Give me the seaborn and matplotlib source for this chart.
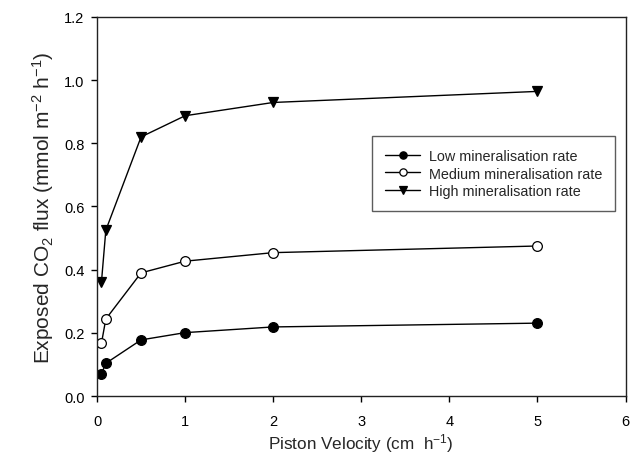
import matplotlib
matplotlib.use("Agg")
import matplotlib.pyplot as plt
import seaborn as sns
import pandas as pd

velocity = [0.05, 0.1, 0.5, 1, 2, 5]
low = [0.07, 0.104, 0.178, 0.201, 0.219, 0.231]
medium = [0.167, 0.244, 0.39, 0.427, 0.454, 0.475]
high = [0.36, 0.525, 0.82, 0.887, 0.929, 0.964]
series_names = ["Low mineralisation rate", "Medium mineralisation rate", "High mineralisation rate"]
x_ticks = [0, 1, 2, 3, 4, 5, 6]
y_ticks = [0.0, 0.2, 0.4, 0.6, 0.8, 1.0, 1.2]

sns.set_style("ticks")
plt.rcParams["font.family"] = ["Liberation Sans", "DejaVu Sans"]
plt.rcParams["mathtext.fontset"] = "custom"
plt.rcParams["mathtext.rm"] = "Liberation Sans"
plt.rcParams["mathtext.it"] = "Liberation Sans"

df = pd.DataFrame({
    "x": velocity * 3,
    "y": low + medium + high,
    "series": [series_names[0]] * 6 + [series_names[1]] * 6 + [series_names[2]] * 6,
})

fig = plt.figure(figsize=(6.3, 4.56), dpi=100)
ax = fig.add_axes([0.154, 0.129, 0.839, 0.832])

styles = {
    series_names[0]: dict(marker="o", markerfacecolor="black", markersize=7),
    series_names[1]: dict(marker="o", markerfacecolor="white", markersize=7),
    series_names[2]: dict(marker="v", markerfacecolor="black", markersize=7.5),
}
for name in series_names:
    sub = df[df["series"] == name]
    sns.lineplot(data=sub, x="x", y="y", ax=ax, color="black", linewidth=1,
                 markeredgecolor="black", markeredgewidth=0.9, label=name,
                 **styles[name])

ax.set_xlim(0, 6)
ax.set_ylim(0, 1.2)
ax.set_xticks(x_ticks)
ax.set_yticks(y_ticks)
ax.set_xticklabels([str(t) for t in x_ticks])
ax.set_yticklabels([f"{t:.1f}" for t in y_ticks])
ax.tick_params(axis="both", direction="out", length=4, width=1, labelsize=10.5,
               colors="black")
ax.tick_params(axis="y", pad=5)
ax.tick_params(axis="x", pad=9)
for s in ax.spines.values():
    s.set_visible(True)
    s.set_linewidth(1)
    s.set_color("#222222")

ax.set_xlabel("Piston Velocity (cm  h$^{-1}$)", fontsize=12.3, labelpad=2)
ax.set_ylabel("Exposed CO$_2$ flux (mmol m$^{-2}$ h$^{-1}$)", fontsize=15, labelpad=6)

leg = ax.legend(loc="upper left", bbox_to_anchor=(0.521, 0.686), fontsize=10.4,
                frameon=True, fancybox=False, edgecolor="#333333",
                handlelength=2.4, handletextpad=0.6, borderpad=0.9,
                labelspacing=0.25, borderaxespad=0, markerscale=0.75)
leg.get_frame().set_linewidth(1)

fig.savefig("out.png", dpi=100)
